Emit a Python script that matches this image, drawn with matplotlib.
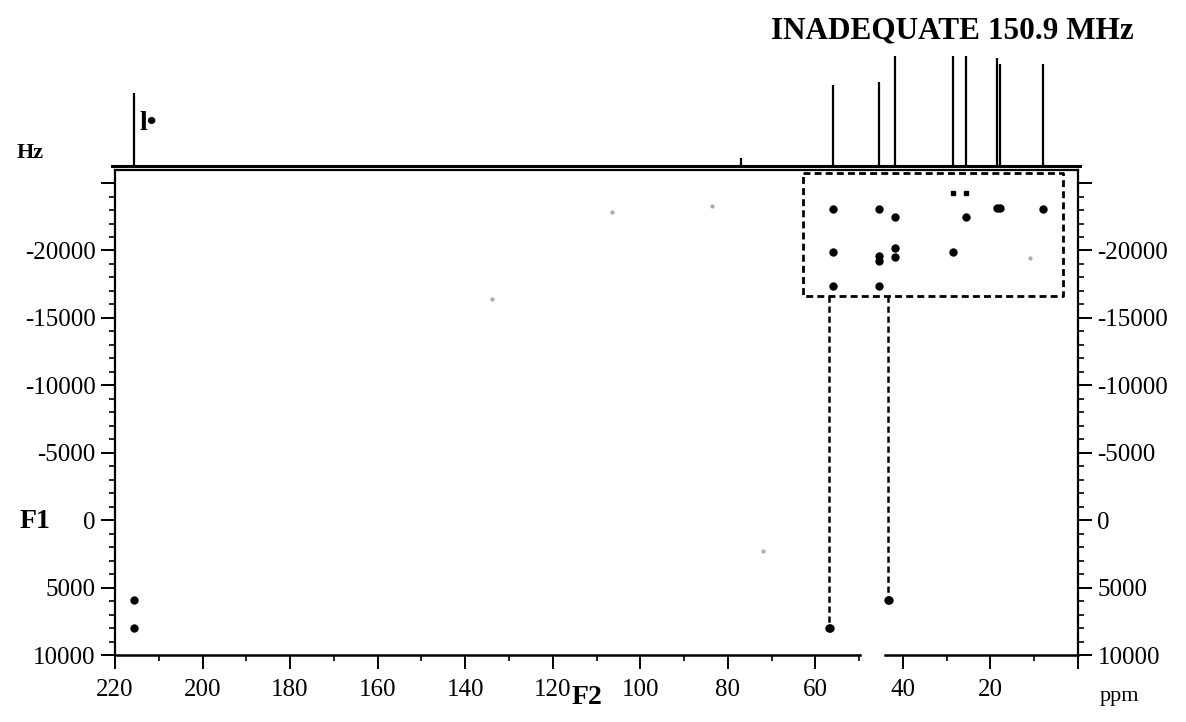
import matplotlib
matplotlib.use('Agg')
import matplotlib.pyplot as plt
from matplotlib.ticker import FixedLocator, MultipleLocator, FuncFormatter

plt.rcParams['font.family'] = ['Liberation Serif', 'DejaVu Serif']

# 1D carbon spectrum shown above the 2D map (ppm, height in arbitrary units)
peak_ppm = [215.6, 77.0, 56.0, 45.5, 41.8, 28.6, 25.7, 18.4, 17.8, 7.9]
peak_height = [73, 8, 81, 84, 110, 110, 110, 108, 102, 102]

# strong INADEQUATE cross peaks (F2 ppm, F1 Hz)
cross_ppm = [56.0, 45.5, 41.8, 25.7, 18.4, 17.9, 7.9,
             56.0, 45.5, 45.5, 41.8, 41.8, 28.6,
             56.0, 45.5, 215.6, 215.6, 56.6, 56.9, 43.1, 43.4]
cross_f1 = [-23100, -23100, -22500, -22500, -23150, -23150, -23100,
            -19900, -19600, -19200, -20200, -19500, -19900,
            -17400, -17400, 5900, 8000, 8000, 8000, 5900, 5900]

# weak marks
weak_ppm = [28.6, 25.7]
weak_f1 = [-24300, -24300]

# faint noise specks
noise_ppm = [106.5, 83.6, 133.9, 71.9, 10.9]
noise_f1 = [-22840, -23280, -16420, 2310, -19480]

# expansion box and correlation lines
box_ppm = [62.9, 3.4]
box_f1 = [-25750, -16640]
link_ppm = [56.8, 43.3]
link_end = [8000, 5900]

y_major = [-25000, -20000, -15000, -10000, -5000, 0, 5000, 10000]
x_major = [220, 200, 180, 160, 140, 120, 100, 80, 60, 40, 20, 0]

fig = plt.figure(figsize=(11.86, 7.22), dpi=100)
ax = fig.add_axes([115 / 1186, 67 / 722, 963 / 1186, 485 / 722])
spec = fig.add_axes([115 / 1186, 556 / 722, 963 / 1186, 116 / 722])

# spectrum
spec.vlines(peak_ppm, 0, peak_height, color='black', lw=1.6)
spec.plot([220.7, -0.5], [0, 0], color='black', lw=2.2, clip_on=False)
spec.set_xlim(220, 0)
spec.set_ylim(0, 116)
spec.axis('off')
spec.text(212.3, 43, 'l\u2022', fontsize=20, fontweight='bold', ha='center', va='center')

# 2D map
ax.plot(cross_ppm, cross_f1, 'o', color='black', ms=5, ls='none')
ax.plot(weak_ppm, weak_f1, 's', color='black', ms=2.2, ls='none')
ax.plot(noise_ppm, noise_f1, 'o', color='#aaaaaa', ms=2, ls='none')

dash = (0, (2.5, 1.5))
ax.plot([box_ppm[0], box_ppm[1], box_ppm[1], box_ppm[0], box_ppm[0]],
        [box_f1[0], box_f1[0], box_f1[1], box_f1[1], box_f1[0]],
        color='black', lw=2, ls=dash)
for p, e in zip(link_ppm, link_end):
    ax.plot([p, p], [box_f1[1], e], color='black', lw=1.8, ls=dash)

ax.set_xlim(220, 0)
ax.set_ylim(10000, -25970)

ax.xaxis.set_major_locator(FixedLocator(x_major))
ax.xaxis.set_minor_locator(MultipleLocator(10))
ax.xaxis.set_major_formatter(FuncFormatter(lambda v, p: '' if v == 0 else f'{int(v)}'))
ax.yaxis.set_major_locator(FixedLocator(y_major))
ax.yaxis.set_minor_locator(MultipleLocator(1000))
ax.yaxis.set_major_formatter(FuncFormatter(lambda v, p: '' if v < -22000 else f'{int(v)}'))

ax.tick_params(axis='both', which='major', direction='out', length=10, width=1.4,
               labelsize=18, colors='black')
ax.tick_params(axis='both', which='minor', direction='out', length=4, width=1.2)
ax.tick_params(axis='x', which='major', pad=7)
ax.tick_params(axis='y', which='major', pad=4, right=True, labelright=True)
ax.tick_params(axis='y', which='minor', right=True)

for s in ['left', 'right', 'top']:
    ax.spines[s].set_linewidth(1.6)
ax.spines['bottom'].set_visible(False)
# bottom axis line is broken around 47 ppm
xt = ax.get_xaxis_transform()
ax.plot([220, 49.8], [0, 0], color='black', lw=1.8, transform=xt, clip_on=False)
ax.plot([44.1, 0], [0, 0], color='black', lw=1.8, transform=xt, clip_on=False)

fig.text(952 / 1186, 1 - 31 / 722, 'INADEQUATE 150.9 MHz', fontsize=22.5, fontweight='bold',
         ha='center', va='center')
fig.text(30 / 1186, 1 - 153 / 722, 'Hz', fontsize=16, fontweight='bold', ha='center', va='center')
fig.text(35 / 1186, 1 - 521 / 722, 'F1', fontsize=20, fontweight='bold', ha='center', va='center')
fig.text(587 / 1186, 1 - 698 / 722, 'F2', fontsize=20, fontweight='bold', ha='center', va='center')
fig.text(1119 / 1186, 1 - 696 / 722, 'ppm', fontsize=16, ha='center', va='center')

fig.savefig('out.png', dpi=100)
